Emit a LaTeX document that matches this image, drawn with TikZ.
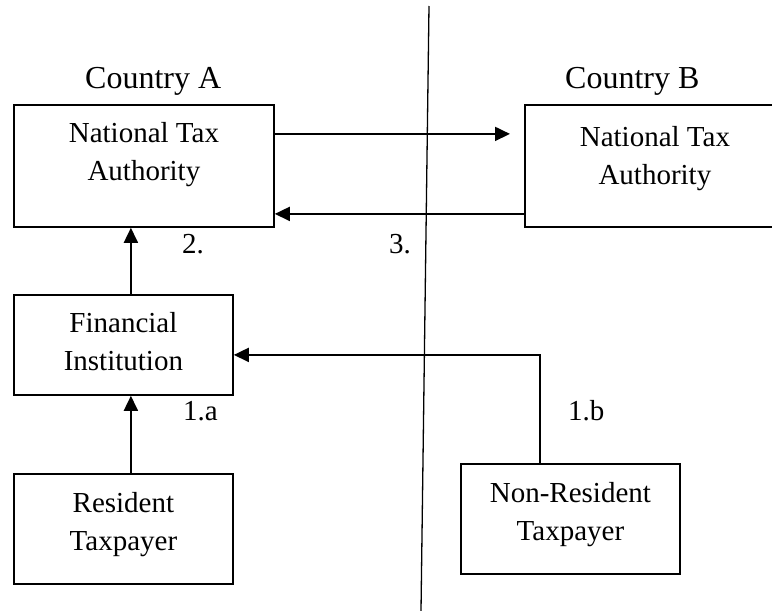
\documentclass[tikz,border=0pt]{standalone}
\usepackage{fontspec}
\setmainfont{Liberation Serif}
\usetikzlibrary{arrows.meta}
\tikzset{
  box/.style={draw, line width=1.8pt, inner sep=0pt, anchor=north west},
  boxtext/.style={font=\fontsize{29}{38}\selectfont, align=center, inner sep=0pt, anchor=north},
  tag/.style={font=\fontsize{29}{35}\selectfont, inner sep=0pt, anchor=base west},
  ctry/.style={font=\fontsize{32}{38}\selectfont, inner sep=0pt, anchor=base west},
  flow/.style={line width=1.8pt, -{Triangle[length=15pt,width=14pt]}},
  divider/.style={line width=1.3pt},
}
\begin{document}
\begin{tikzpicture}[x=1pt,y=-1pt]
\useasboundingbox (0,0) rectangle (772,611);

% boxes
\node[box, minimum width=260pt, minimum height=122pt] (ntaA) at (13,104) {};
\node[box, minimum width=260pt, minimum height=122pt] (ntaB) at (524,104) {};
\node[box, minimum width=219pt, minimum height=100pt] (fi) at (13,294) {};
\node[box, minimum width=219pt, minimum height=110pt] (rt) at (13,473) {};
\node[box, minimum width=219pt, minimum height=110pt] (nr) at (460,463) {};

% box texts
\node[boxtext] (ntaAt) at ([yshift=-18pt]ntaA.north) {National Tax\\Authority};
\node[boxtext] (ntaBt) at ([yshift=-22pt]ntaB.north) {National Tax\\Authority};
\node[boxtext] (fit) at ([yshift=-18pt]fi.north) {Financial\\Institution};
\node[boxtext] (rtt) at ([yshift=-19pt]rt.north) {Resident\\Taxpayer};
\node[boxtext] (nrt) at ([yshift=-19pt]nr.north) {Non-Resident\\Taxpayer};

% country labels
\node[ctry] (ca) at (85,88) {Country A};
\node[ctry] (cb) at (565,88) {Country B};

% step labels
\node[tag] (l2) at (182,253) {2.};
\node[tag] (l3) at (389,253) {3.};
\node[tag] (l1a) at (183,420) {1.a};
\node[tag] (l1b) at (568,420) {1.b};

% divider
\coordinate (dtop) at (429,6);
\coordinate (dbot) at (421,611);
\draw[divider] (dtop) -- (dbot);

% connectors
\draw[flow, shorten >=14pt] ([yshift=32pt]ntaA.east) -- ([yshift=32pt]ntaB.west);
\draw[flow] ([yshift=-48pt]ntaB.west) -- ([yshift=-48pt]ntaA.east);
\draw[flow] ([xshift=7.5pt]fi.north) -- ([xshift=7.5pt]fi.north |- ntaA.south);
\draw[flow] ([xshift=7.5pt]rt.north) -- ([xshift=7.5pt]rt.north |- fi.south);
\draw[flow] ([xshift=-30.5pt]nr.north) |- ([yshift=-10pt]fi.east);
\end{tikzpicture}
\end{document}
